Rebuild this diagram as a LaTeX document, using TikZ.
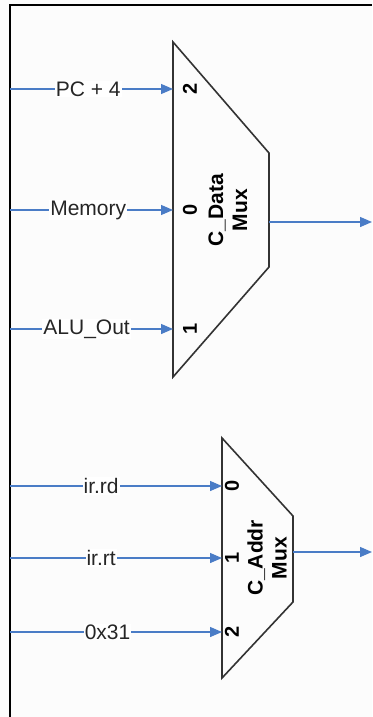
\documentclass[tikz,border=0pt]{standalone}
\usepackage{fontspec}
\setmainfont{Liberation Sans}
\usetikzlibrary{arrows.meta}
\definecolor{wire}{HTML}{4A7CC6}
\definecolor{muxline}{HTML}{333333}
\tikzset{
  wirearrow/.style={draw=wire, line width=1.3pt, -{Triangle[length=12pt,width=10pt]}},
  wlabel/.style={fill=white, inner sep=1pt, font=\fontsize{21}{23}\selectfont, text=black!85},
  muxshape/.style={draw=muxline, line width=1.6pt, line join=miter},
  portnum/.style={font=\fontsize{20}{22}\bfseries\selectfont, rotate=90, inner sep=0pt},
  muxname/.style={font=\fontsize{21}{24}\bfseries\selectfont, rotate=90, align=center, inner sep=0pt},
}
\begin{document}
\begin{tikzpicture}[x=1pt,y=-1pt]
\useasboundingbox (0,0) rectangle (372,717);
\fill[white!99!black] (0,0) rectangle (372,717);
% frame
\draw[line width=2.2pt] (10,717) -- (10,5) -- (372,5);

% C_Data mux
\draw[muxshape] (173,42) -- (269,153) -- (269,267) -- (173,377) -- cycle;
\coordinate (d2) at (173,89);
\coordinate (d0) at (173,210);
\coordinate (d1) at (173,329);
\coordinate (dout) at (269,222);
\coordinate (dend) at (372,222);
\coordinate (sd2) at (10,89);
\coordinate (sd0) at (10,210);
\coordinate (sd1) at (10,329);
\node[portnum] (pd2) at (190,89) {2};
\node[portnum] (pd0) at (190,210) {0};
\node[portnum] (pd1) at (190,329) {1};
\node[muxname] (mdata) at (228,210) {C\_Data\\Mux};

\draw[wirearrow] (sd2) -- node[wlabel, pos=0.48] (lpc) {PC + 4} (d2);
\draw[wirearrow] (sd0) -- node[wlabel, pos=0.48] (lmem) {Memory} (d0);
\draw[wirearrow] (sd1) -- node[wlabel, pos=0.47] (lalu) {ALU\_Out} (d1);
\draw[wirearrow] (dout) -- (dend);

% C_Addr mux
\draw[muxshape] (222,438) -- (293,516) -- (293,602) -- (222,678) -- cycle;
\coordinate (a0) at (222,486);
\coordinate (a1) at (222,558);
\coordinate (a2) at (222,632);
\coordinate (aout) at (293,552);
\coordinate (aend) at (372,552);
\coordinate (sa0) at (10,486);
\coordinate (sa1) at (10,558);
\coordinate (sa2) at (10,632);
\node[portnum] (pa0) at (232,486) {0};
\node[portnum] (pa1) at (232,558) {1};
\node[portnum] (pa2) at (232,632) {2};
\node[muxname] (maddr) at (267,558) {C\_Addr\\Mux};

\draw[wirearrow] (sa0) -- node[wlabel, pos=0.43] (lrd) {ir.rd} (a0);
\draw[wirearrow] (sa1) -- node[wlabel, pos=0.43] (lrt) {ir.rt} (a1);
\draw[wirearrow] (sa2) -- node[wlabel, pos=0.46] (l31) {0x31} (a2);
\draw[wirearrow] (aout) -- (aend);
\end{tikzpicture}
\end{document}
